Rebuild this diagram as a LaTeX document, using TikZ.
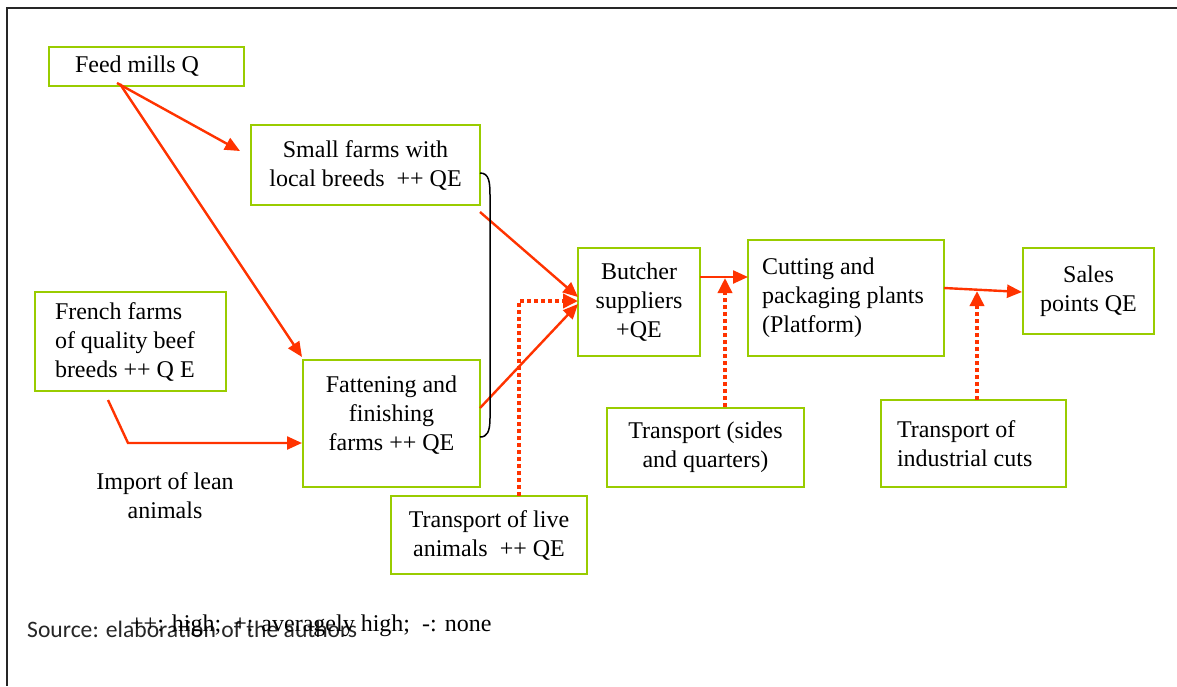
\documentclass[tikz,border=0pt]{standalone}
\usepackage{fontspec}
\setmainfont{Liberation Serif}
\newfontfamily\srcfont{Carlito}
\usetikzlibrary{arrows.meta,calc}
\definecolor{boxgreen}{RGB}{153,204,0}
\definecolor{flowred}{RGB}{255,51,0}
\begin{document}
\begin{tikzpicture}[x=1pt,y=-1pt,
  box/.style={draw=boxgreen, line width=2pt, font=\fontsize{24}{29}\selectfont, align=center, inner sep=0pt},
  lbox/.style={box, align=flush left},
  txt/.style={font=\fontsize{24}{29}\selectfont, align=center, inner sep=0pt},
  flow/.style={draw=flowred, line width=2.4pt, -{Triangle[length=15pt,width=13pt]}},
  dotflow/.style={draw=flowred, line width=3.5pt, dash pattern=on 4pt off 3pt, -{Triangle[length=15pt,width=14pt]}},
  bracket/.style={draw=black, line width=1.5pt}
]
\useasboundingbox (0,0) rectangle (1177,686);
\fill[white] (0,0) rectangle (1177,686);
\draw[line width=2pt, black!85] (1177,8) -- (7,8) -- (7,686);

% boxes
\node[lbox, minimum width=195pt, minimum height=39pt, text width=143pt] (feed) at (146.5,66.5) {Feed mills Q};
\node[box, minimum width=229pt, minimum height=80pt] (small) at (365.5,165) {Small farms with\\local breeds\ \ ++ QE};
\node[lbox, minimum width=191pt, minimum height=99pt, text width=151pt] (french) at (130.5,341.5) {French farms\\of quality beef\\breeds ++ Q E};
\node[box, minimum width=177pt, minimum height=127pt, text depth=20pt] (fat) at (391.5,423.5) {Fattening and\\finishing\\farms ++ QE};
\node[box, minimum width=122pt, minimum height=108pt] (butcher) at (639,302) {Butcher\\suppliers\\+QE};
\node[lbox, minimum width=196pt, minimum height=116pt, text width=168pt] (cut) at (846,298) {Cutting and\\packaging plants\\(Platform)};
\node[box, minimum width=131pt, minimum height=86pt] (sales) at (1088.5,291) {Sales\\points QE};
\node[box, minimum width=197pt, minimum height=79pt] (tsides) at (705.5,447.5) {Transport (sides\\and quarters)};
\node[lbox, minimum width=185pt, minimum height=87pt, text width=153pt] (tind) at (973.5,443.5) {Transport of\\industrial cuts};
\node[box, minimum width=196pt, minimum height=78pt] (tlive) at (489,535) {Transport of live\\animals\ \ ++ QE};

\node[txt] (import) at (165,495.5) {Import of lean\\animals};

% source and legend
\node[anchor=base west, inner sep=0pt, font=\srcfont\fontsize{23.6}{28}\selectfont, text=black!85] (src) at (27,637) {Source: elaboration of the authors};
\node[anchor=base west, inner sep=0pt, font=\fontsize{24}{29}\selectfont] (legend) at (130,631) {++: high;\ \ +: averagely high;\ \ -: none};

% connector end points
\coordinate (feedoutA) at (117,83);
\coordinate (feedoutB) at (120,84);
\coordinate (smallin) at (240,151);
\coordinate (fatin) at (302,357);
\coordinate (frout) at (108,400);
\coordinate (frbend) at (128,443);
\coordinate (fatinL) at (fat.west |- frbend);
\coordinate (smallout) at (480,212);
\coordinate (fatout) at (480,408);
\coordinate (butinA) at (578,297);
\coordinate (butinB) at (578,304);
\coordinate (livetop) at (519,496);
\coordinate (livebend) at (519,301);
\coordinate (butinC) at (578,301);
\coordinate (butout) at (700,277);
\coordinate (cutin) at (748,277);
\coordinate (sidesTop) at (725,407);
\coordinate (sidesTip) at (725,278);
\coordinate (cutout) at (944,288);
\coordinate (salesin) at (1022,292);
\coordinate (indTop) at (977,400);
\coordinate (indTip) at (977,291);
\coordinate (brtop) at (480,173);
\coordinate (brbot) at (480,437);

% connectors
\draw[flow] (feedoutA) -- (smallin);
\draw[flow] (feedoutB) -- (fatin);
\draw[flow] (frout) -- (frbend) -- (fatinL);
\draw[dotflow] (livetop) -- (livebend) -- (butinC);
\draw[flow] (smallout) -- (butinA);
\draw[flow] (fatout) -- (butinB);
\draw[flow] (butout) -- (cutin);
\draw[dotflow] (sidesTop) -- (sidesTip);
\draw[flow] (cutout) -- (salesin);
\draw[dotflow] (indTop) -- (indTip);

% bracket
\draw[bracket] (brtop) .. controls (489,173) and (490,182) .. (490,195) -- (490,418) .. controls (490,432) and (487,437) .. (brbot);
\end{tikzpicture}
\end{document}
